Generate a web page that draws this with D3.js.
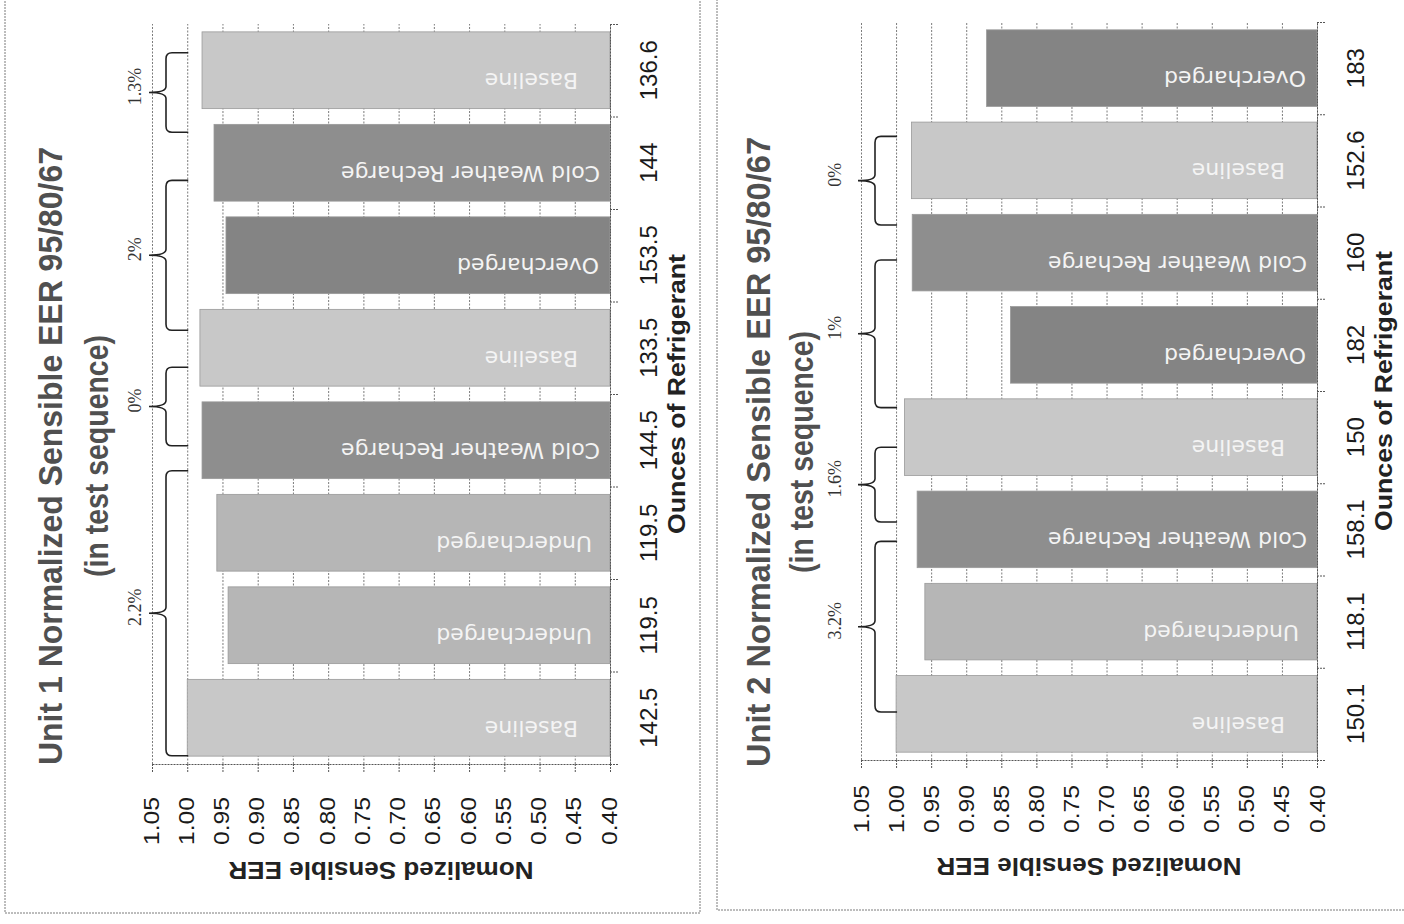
<!DOCTYPE html>
<html lang="en">
<head>
<meta charset="UTF-8">
<title>Unit 1 / Unit 2 Normalized Sensible EER 95/80/67</title>
<script src="https://d3js.org/d3.v7.min.js"></script>
<style>
  body { margin: 0; background: #fff; }
  svg { display: block; }
  .frame { fill: none; stroke: #7a7a7a; stroke-width: 1; stroke-dasharray: 2,1; }
  .grid line { stroke: #7c7c7c; stroke-width: 1; stroke-dasharray: 2,1.5; }
  .grid path { display: none; }
  .axis path, .axis line { stroke: #555; stroke-width: 1; stroke-dasharray: 2,1; }
  .axis text { fill: #1a1a1a; font-family: "Liberation Sans", Arial, sans-serif; }
  .bar { stroke: #9a9a9a; stroke-width: 0.8; }
  .barlabel { fill: #f4f4f4; font-family: "DejaVu Sans", Verdana, sans-serif; font-size: 22px; }
  .title { fill: #505050; font-family: "Liberation Sans", Arial, sans-serif; font-weight: bold; font-size: 33px; }
  .axistitle { fill: #222; font-family: "Liberation Sans", Arial, sans-serif; font-weight: bold; }
  .brace { fill: none; stroke: #222; stroke-width: 1.6; }
  .pct { fill: #333; font-family: "Liberation Serif", "Times New Roman", serif; font-size: 18px; }
</style>
</head>
<body>
<script>
// values in test sequence order (first test = bottom of the page)
const unit1Charge = ["142.5", "119.5", "119.5", "144.5", "133.5", "153.5", "144", "136.6"];
const unit1Test = ["Baseline", "Undercharged", "Undercharged", "Cold Weather Recharge",
                   "Baseline", "Overcharged", "Cold Weather Recharge", "Baseline"];
const unit1EER = [1.00, 0.942, 0.958, 0.979, 0.982, 0.945, 0.962, 0.979];

const unit2Charge = ["150.1", "118.1", "158.1", "150", "182", "160", "152.6", "183"];
const unit2Test = ["Baseline", "Undercharged", "Cold Weather Recharge", "Baseline",
                   "Overcharged", "Cold Weather Recharge", "Baseline", "Overcharged"];
const unit2EER = [1.00, 0.959, 0.970, 0.988, 0.837, 0.977, 0.978, 0.871];

// brace annotations, spans given in category units (0 = start of first test)
const unit1BraceLabels = ["2.2%", "0%", "2%", "1.3%"];
const unit1BraceFrom = [0.09, 3.44, 4.69, 6.83];
const unit1BraceTo = [3.17, 4.29, 6.31, 7.69];

const unit2BraceLabels = ["3.2%", "1.6%", "1%", "0%"];
const unit2BraceFrom = [0.52, 2.58, 3.82, 5.80];
const unit2BraceTo = [2.37, 3.39, 5.42, 6.76];

const eerTicks = [1.05, 1.00, 0.95, 0.90, 0.85, 0.80, 0.75, 0.70, 0.65, 0.60, 0.55, 0.50, 0.45, 0.40];

const testColor = {
    "Baseline": "#c8c8c8",
    "Undercharged": "#b6b6b6",
    "Cold Weather Recharge": "#8e8e8e",
    "Overcharged": "#848484"
};
// how far each label sits from the base of its bar
const labelInset = {
    "Baseline": 32,
    "Undercharged": 18,
    "Cold Weather Recharge": 10,
    "Overcharged": 11
};

const svg = d3.select("body").append("svg")
    .attr("width", 1404)
    .attr("height", 924);

// panel frames
svg.append("rect").attr("class", "frame")
    .attr("x", 5).attr("y", -3).attr("width", 695).attr("height", 916);
svg.append("rect").attr("class", "frame")
    .attr("x", 717).attr("y", -3).attr("width", 700).attr("height", 913);

function bracePath(tipX, spineX, endX, y1, y2) {
    const ym = (y1 + y2) / 2, r = 6;
    return `M${endX},${y1} L${spineX + r},${y1} Q${spineX},${y1} ${spineX},${y1 + r}` +
        ` L${spineX},${ym - r} Q${spineX},${ym} ${tipX},${ym}` +
        ` Q${spineX},${ym} ${spineX},${ym + r} L${spineX},${y2 - r}` +
        ` Q${spineX},${y2} ${spineX + r},${y2} L${endX},${y2}`;
}

function drawPanel(p) {
    const g = svg.append("g");
    const n = p.charge.length;

    const x = d3.scaleLinear().domain([1.05, 0.40]).range([p.left, p.right]);
    const yBand = d3.scaleBand().domain(d3.range(n))
        .range([p.bottom, p.top])
        .paddingInner(0.17).paddingOuter(0.085);
    const yPos = d3.scaleLinear().domain([0, n]).range([p.bottom, p.top]);

    // gridlines
    g.append("g").attr("class", "grid")
        .attr("transform", `translate(0,${p.bottom})`)
        .call(d3.axisBottom(x).tickValues(eerTicks).tickSize(-(p.bottom - p.top)).tickFormat(""));

    // value axis (bottom of the page)
    const xAxis = g.append("g").attr("class", "axis")
        .attr("transform", `translate(0,${p.bottom})`)
        .call(d3.axisBottom(x).tickValues(eerTicks).tickSize(9).tickSizeOuter(0)
            .tickFormat(d3.format(".2f")));
    xAxis.selectAll("text")
        .attr("y", null).attr("dy", null)
        .attr("text-anchor", "end")
        .attr("font-size", 22)
        .attr("textLength", 48).attr("lengthAdjust", "spacingAndGlyphs")
        .attr("transform", `translate(${p.tickDX},${p.tickGap}) rotate(-90)`);

    // bars
    g.selectAll(".bar")
        .data(p.eer)
        .join("rect")
        .attr("class", "bar")
        .attr("x", d => x(d))
        .attr("y", (d, i) => yBand(i))
        .attr("width", d => x(0.40) - x(d))
        .attr("height", yBand.bandwidth())
        .attr("fill", (d, i) => testColor[p.test[i]]);

    g.selectAll(".barlabel")
        .data(p.test)
        .join("text")
        .attr("class", "barlabel")
        .attr("text-anchor", "start")
        .attr("transform", (d, i) =>
            `translate(${x(0.40) - labelInset[d]},${yBand(i) + yBand.bandwidth() / 2 + 3}) rotate(180)`)
        .text(d => d);

    // category axis (right side of the page)
    g.append("g").attr("class", "axis")
        .attr("transform", `translate(${p.right},0)`)
        .call(d3.axisRight(yPos).tickValues(d3.range(n + 1)).tickSize(8).tickSizeOuter(0).tickFormat(""));
    const yAxis = g.append("g").attr("class", "axis")
        .attr("transform", `translate(${p.right},0)`)
        .call(d3.axisRight(yBand).tickSize(0).tickSizeOuter(0).tickFormat(i => p.charge[i]));
    yAxis.select(".domain").remove();
    yAxis.selectAll("text")
        .attr("x", null).attr("dy", null)
        .attr("text-anchor", "middle")
        .attr("font-size", 24)
        .attr("transform", `translate(47,0) rotate(-90)`);

    // axis titles
    g.append("text").attr("class", "axistitle")
        .attr("text-anchor", "middle")
        .attr("font-size", 24)
        .attr("textLength", 305).attr("lengthAdjust", "spacingAndGlyphs")
        .attr("transform", `translate(${(p.left + p.right) / 2},${p.bottom + 98}) rotate(180)`)
        .text("Nomalized Sensible EER");

    g.append("text").attr("class", "axistitle")
        .attr("text-anchor", "middle")
        .attr("font-size", 23)
        .attr("textLength", 280).attr("lengthAdjust", "spacingAndGlyphs")
        .attr("transform", `translate(${p.right + 75},${(p.top + p.bottom) / 2}) rotate(-90)`)
        .text("Ounces of Refrigerant");

    // chart title
    g.append("text").attr("class", "title")
        .attr("text-anchor", "middle")
        .attr("textLength", p.titleLen).attr("lengthAdjust", "spacingAndGlyphs")
        .attr("transform", `translate(${p.titleX},${p.titleY}) rotate(-90)`)
        .text(p.title);
    g.append("text").attr("class", "title")
        .attr("text-anchor", "middle")
        .attr("textLength", 242).attr("lengthAdjust", "spacingAndGlyphs")
        .attr("transform", `translate(${p.subX},${p.titleY}) rotate(-90)`)
        .text("(in test sequence)");

    // braces with percentage change
    const tipX = x(1.05) - 3, spineX = x(1.05) + 14, endX = x(1.00) + 1;
    p.braceLabels.forEach((label, i) => {
        const y1 = yPos(p.braceTo[i]), y2 = yPos(p.braceFrom[i]);
        g.append("path").attr("class", "brace")
            .attr("d", bracePath(tipX, spineX, endX, y1, y2));
        g.append("text").attr("class", "pct")
            .attr("text-anchor", "middle")
            .attr("transform", `translate(${x(1.05) - p.pctDX},${(y1 + y2) / 2 - 6}) rotate(-90)`)
            .text(label);
    });
}

drawPanel({
    charge: unit1Charge, test: unit1Test, eer: unit1EER,
    braceLabels: unit1BraceLabels, braceFrom: unit1BraceFrom, braceTo: unit1BraceTo,
    left: 152, right: 610, top: 24, bottom: 764,
    tickDX: 6, tickGap: 33, pctDX: 11,
    title: "Unit 1 Normalized Sensible EER 95/80/67",
    titleX: 62, subX: 108, titleY: 456, titleLen: 618
});

drawPanel({
    charge: unit2Charge, test: unit2Test, eer: unit2EER,
    braceLabels: unit2BraceLabels, braceFrom: unit2BraceFrom, braceTo: unit2BraceTo,
    left: 861, right: 1317, top: 22, bottom: 760,
    tickDX: 7, tickGap: 25, pctDX: 20,
    title: "Unit 2 Normalized Sensible EER 95/80/67",
    titleX: 770, subX: 813, titleY: 452, titleLen: 630
});
</script>
</body>
</html>
